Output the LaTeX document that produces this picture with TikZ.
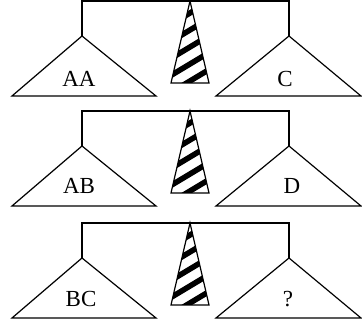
\documentclass[tikz,border=0pt]{standalone}
\usepackage{fontspec}
\setmainfont{Liberation Serif}

\tikzset{
    pan/.style={draw, line width=1.2pt, fill=white},
    stripe/.style={line width=5.5pt, black},
    lbl/.style={anchor=base, inner sep=0pt, font=\fontsize{23}{27}\selectfont}
}

\begin{document}
\begin{tikzpicture}[x=1pt, y=-1pt, line width=1.2pt, line join=miter]
    \useasboundingbox (0,0) rectangle (362,326);

    % first balance
    \begin{scope}[shift={(0,0)}]
        \draw (82,36) -- (82,1) -- (289,1) -- (289,36);
        \draw[pan] (82,36) -- (12,96) -- (156,96) -- cycle;
        \draw[pan] (289,36) -- (216,96) -- (361,96) -- cycle;
        \begin{scope}
            \clip (190,1) -- (171,83) -- (209,83) -- cycle;
            \foreach \k in {0,...,7}
                \draw[stripe] (160,14+\k*17) -- (220,-22+\k*17);
        \end{scope}
        \draw (190,1) -- (171,83) -- (209,83) -- cycle;
        \node[lbl] (aa) at (79,87) {AA};
        \node[lbl] (c) at (285,87) {C};
    \end{scope}

    % second balance
    \begin{scope}[shift={(0,110)}]
        \draw (82,36) -- (82,1) -- (289,1) -- (289,36);
        \draw[pan] (82,36) -- (12,96) -- (156,96) -- cycle;
        \draw[pan] (289,36) -- (216,96) -- (361,96) -- cycle;
        \begin{scope}
            \clip (190,1) -- (171,83) -- (209,83) -- cycle;
            \foreach \k in {0,...,7}
                \draw[stripe] (160,14+\k*17) -- (220,-22+\k*17);
        \end{scope}
        \draw (190,1) -- (171,83) -- (209,83) -- cycle;
        \node[lbl] (ab) at (79,84) {AB};
        \node[lbl] (d) at (292,84) {D};
    \end{scope}

    % third balance
    \begin{scope}[shift={(0,222)}]
        \draw (82,36) -- (82,1) -- (289,1) -- (289,36);
        \draw[pan] (82,36) -- (12,96) -- (156,96) -- cycle;
        \draw[pan] (289,36) -- (216,96) -- (361,96) -- cycle;
        \begin{scope}
            \clip (190,1) -- (171,83) -- (209,83) -- cycle;
            \foreach \k in {0,...,7}
                \draw[stripe] (160,14+\k*17) -- (220,-22+\k*17);
        \end{scope}
        \draw (190,1) -- (171,83) -- (209,83) -- cycle;
        \node[lbl] (bc) at (81,85) {BC};
        \node[lbl] (q) at (288,85) {?};
    \end{scope}
\end{tikzpicture}
\end{document}
